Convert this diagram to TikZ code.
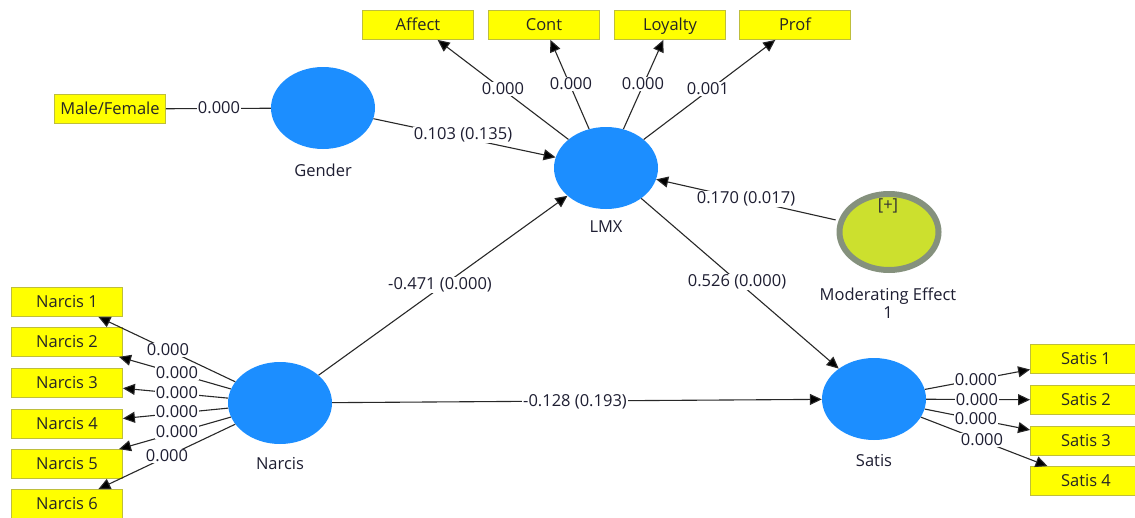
\documentclass[tikz,border=0pt]{standalone}
\usepackage{fontspec}
\setmainfont{Open Sans}
\usetikzlibrary{shapes.geometric,arrows.meta}
\definecolor{lvblue}{RGB}{28,142,255}
\definecolor{indyellow}{RGB}{255,255,0}
\definecolor{indborder}{RGB}{190,190,60}
\definecolor{modfill}{RGB}{204,224,46}
\definecolor{modborder}{RGB}{133,145,125}
\definecolor{linegray}{RGB}{40,40,40}
\definecolor{txt}{RGB}{30,30,50}
\begin{document}
\begin{tikzpicture}[x=1pt,y=-1pt,
  font=\fontsize{16.5}{18}\selectfont,
  latent/.style={ellipse, fill=lvblue, minimum width=104pt, minimum height=82pt, inner sep=0pt},
  modvar/.style={ellipse, fill=modfill, draw=modborder, line width=6pt, minimum width=99pt, minimum height=76pt, inner sep=0pt},
  indbox/.style={rectangle, fill=indyellow, draw=indborder, line width=0.8pt, minimum width=111pt, minimum height=29pt, inner sep=0pt, text height=12.5pt, text depth=0.7pt, text=black!85},
  conn/.style={draw=linegray, line width=1.1pt},
  arr/.style={conn, -{Triangle[length=12pt,width=11pt,fill=black]}},
  lbl/.style={fill=white, inner sep=1pt, text=txt},
  lvcaption/.style={text=txt}
]
\clip (0,0) rectangle (1135,517);
\fill[white] (0,0) rectangle (1135,517);

% latent variables
\node[latent] (gender) at (323,108) {};
\node[lvcaption] (genderlbl) at (323,170) {Gender};
\node[latent] (lmx) at (606,168) {};
\node[lvcaption] (lmxlbl) at (606,227) {LMX};
\node[latent] (narcis) at (280,403) {};
\node[lvcaption] (narcislbl) at (280,464) {Narcis};
\node[latent] (satis) at (874,399) {};
\node[lvcaption] (satislbl) at (874,461) {Satis};
\node[modvar] (mod) at (889,232) {};
\node[text=black!80] (modplus) at (888,206) {[+]};
\node[lvcaption, align=center] (modlbl) at (888,303) {Moderating Effect\\1};

% indicators
\node[indbox] (mf) at (110,109) {Male/Female};
\node[indbox] (affect) at (418,25) {Affect};
\node[indbox] (cont) at (544,25) {Cont};
\node[indbox] (loyalty) at (670,25) {Loyalty};
\node[indbox] (prof) at (795,25) {Prof};
\node[indbox] (n1) at (67,302) {Narcis 1};
\node[indbox] (n2) at (67,342) {Narcis 2};
\node[indbox] (n3) at (67,383) {Narcis 3};
\node[indbox] (n4) at (67,424) {Narcis 4};
\node[indbox] (n5) at (67,464) {Narcis 5};
\node[indbox] (n6) at (67,504) {Narcis 6};
\node[indbox] (s1) at (1086,359) {Satis 1};
\node[indbox] (s2) at (1086,400) {Satis 2};
\node[indbox] (s3) at (1086,441) {Satis 3};
\node[indbox] (s4) at (1086,481) {Satis 4};

% connectors
\draw[conn] (mf) -- (gender);
\draw[arr] (gender) -- (lmx);
\draw[arr] (narcis) -- (lmx);
\draw[arr] (lmx) -- (satis);
\draw[arr] (narcis) -- (satis);
\draw[arr, shorten <=3pt] (mod) -- (lmx);
\draw[arr] (lmx) -- (affect);
\draw[arr] (lmx) -- (cont);
\draw[arr] (lmx) -- (loyalty);
\draw[arr] (lmx) -- (prof);
\draw[arr] (narcis) -- (n1);
\draw[arr] (narcis) -- (n2);
\draw[arr] (narcis) -- (n3);
\draw[arr] (narcis) -- (n4);
\draw[arr] (narcis) -- (n5);
\draw[arr] (narcis) -- (n6);
\draw[arr] (satis) -- (s1);
\draw[arr] (satis) -- (s2);
\draw[arr] (satis) -- (s3);
\draw[arr] (satis) -- (s4);

% path coefficient labels
\node[lbl] (lmf) at (219,108) {0.000};
\node[lbl] (lgl) at (463,135) {0.103 (0.135)};
\node[lbl] (lnl) at (440,285) {-0.471 (0.000)};
\node[lbl] (lls) at (737,282) {0.526 (0.000)};
\node[lbl] (lns) at (575,402) {-0.128 (0.193)};
\node[lbl] (lml) at (746,199) {0.170 (0.017)};
\node[lbl] (la) at (503,89) {0.000};
\node[lbl] (lc) at (571,84) {0.000};
\node[lbl] (lo) at (643,84) {0.000};
\node[lbl] (lp) at (708,89) {0.001};
\node[lbl] (ln1) at (168,350) {0.000};
\node[lbl] (ln2) at (177,373) {0.000};
\node[lbl] (ln3) at (177,393) {0.000};
\node[lbl] (ln4) at (177,412) {0.000};
\node[lbl] (ln5) at (177,432) {0.000};
\node[lbl] (ln6) at (167,456) {0.000};
\node[lbl] (ls1) at (976,380) {0.000};
\node[lbl] (ls2) at (977,400) {0.000};
\node[lbl] (ls3) at (976,419) {0.000};
\node[lbl] (ls4) at (982,440) {0.000};
\end{tikzpicture}
\end{document}
